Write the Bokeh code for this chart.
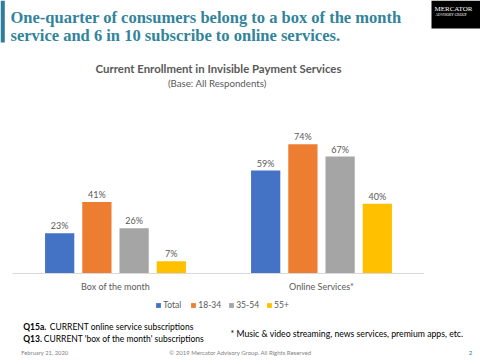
from bokeh.plotting import figure
from bokeh.layouts import column
from bokeh.models import (FactorRange, Range1d, Label, Legend, LegendItem,
                          BoxAnnotation, ColumnDataSource, Span)
from bokeh.transform import dodge
from bokeh.embed import file_html
from bokeh.resources import INLINE
from bokeh.core.properties import value

# ---- data ----
categories = ["Box of the month", "Online Services*"]
series = ["Total", "18-34", "35-54", "55+"]
total = [23, 59]
age_18_34 = [41, 74]
age_35_54 = [26, 67]
age_55_plus = [7, 40]
colors = ["#4472C4", "#ED7D31", "#A5A5A5", "#FFC000"]

values = [total, age_18_34, age_35_54, age_55_plus]
data = {"cat": categories}
for i, v in enumerate(values):
    data[f"s{i}"] = v
    data[f"l{i}"] = [f"{x}%" for x in v]
src = ColumnDataSource(data)

FONT = "Lato"
GRAY = "#595959"
TEAL = "#31849B"
W = 480
TOP_H = 95      # page y 0..95
CHART_H = 217   # page y 95..312
BOT_H = 48      # page y 312..360


def blank(h):
    f = figure(frame_width=W, frame_height=h, output_backend="svg",
               toolbar_location=None,
               x_range=Range1d(0, 1), y_range=Range1d(0, 1),
               x_axis_location=None, y_axis_location=None,
               min_border_left=0, min_border_right=0, min_border_top=0,
               min_border_bottom=0)
    f.frame_align = False
    f.outline_line_color = None
    f.grid.visible = False
    f.background_fill_color = "white"
    f.border_fill_color = "white"
    return f


def make_lab(fig, page_bottom):
    def lab(text, x, y, size, color, align="left", style="normal", font=FONT,
            baseline="middle"):
        fig.add_layout(Label(x=x, y=page_bottom - y, x_units="screen",
                             y_units="screen", text=text, text_font_size=size,
                             text_color=color, text_align=align,
                             text_baseline=baseline, text_font=font,
                             text_font_style=style))
    return lab


def box(fig, page_bottom, l, r, t, b, color):
    fig.add_layout(BoxAnnotation(left=l, right=r, top=page_bottom - t,
                                 bottom=page_bottom - b, left_units="screen",
                                 right_units="screen", top_units="screen",
                                 bottom_units="screen", fill_color=color,
                                 fill_alpha=1, line_color=None))


# ---------- top area ----------
top = blank(TOP_H)
lab = make_lab(top, TOP_H)
box(top, TOP_H, 0, 4.3, 0, 42, "#2E7D9B")
lab("One-quarter of consumers belong to a box of the month", 10, 17.3, "16.5px", TEAL,
    style="bold", font="Liberation Serif", baseline="alphabetic")
lab("service and 6 in 10 subscribe to online services.", 10, 35, "16.5px", TEAL,
    style="bold", font="Liberation Serif", baseline="alphabetic")
box(top, TOP_H, 431, 480, 0, 28, "black")
lab("MERCATOR", 434, 8.5, "7px", "white", font="Liberation Serif")
lab("ADVISORY GROUP", 435, 14.7, "3.6px", "white", font="Liberation Serif")
lab("Current Enrollment in Invisible Payment Services", 218, 68.3, "11.4px", GRAY,
    align="center", style="bold")
lab("(Base:  All Respondents)", 218, 82.3, "9.7px", GRAY, align="center")

# ---------- chart ----------
PX_PER_PCT = 1.745
BASE_Y = 273 - TOP_H          # baseline distance from chart-figure top
p = figure(frame_width=412, frame_height=CHART_H, output_backend="svg",
           toolbar_location=None,
           x_range=FactorRange(factors=categories, range_padding=0),
           y_range=Range1d(-(CHART_H - BASE_Y) / PX_PER_PCT, BASE_Y / PX_PER_PCT),
           x_axis_location=None, y_axis_location=None,
           min_border_left=12, min_border_right=56, min_border_top=0,
           min_border_bottom=0)
p.frame_align = False
p.outline_line_color = None
p.grid.visible = False
p.background_fill_color = "white"
p.border_fill_color = "white"

offsets = [-0.271, -0.0903, 0.0903, 0.271]
items = []
for i, name in enumerate(series):
    r = p.vbar(x=dodge("cat", offsets[i], range=p.x_range), top=f"s{i}", width=0.142,
               source=src, fill_color=colors[i], line_color=None)
    p.text(x=dodge("cat", offsets[i], range=p.x_range), y=f"s{i}", text=f"l{i}",
           source=src, text_align="center", text_baseline="bottom", y_offset=-2,
           text_font_size="9px", text_color=GRAY, text_font=value(FONT))
    items.append(LegendItem(label=name, renderers=[r]))

# category axis: baseline + category labels
p.add_layout(Span(location=0, dimension="width", line_color="#D9D9D9", line_width=1))
p.text(x="cat", y=0, text="cat", source=src, text_align="center",
       text_baseline="middle", y_offset=13, text_font_size="9px", text_color=GRAY,
       text_font=value(FONT))

legend = Legend(items=items, location=(143.3, 1.5), orientation="horizontal",
                glyph_width=6, glyph_height=6, label_text_font_size="8.5px",
                label_text_font=FONT, label_text_color=GRAY, label_height=11,
                label_standoff=2, spacing=7, padding=0, margin=0,
                border_line_color=None, background_fill_alpha=0)
p.add_layout(legend)

# ---------- footer ----------
bot = blank(BOT_H)
lab = make_lab(bot, 360)
lab("Q15a.", 22.7, 326, "8.5px", "black", style="bold")
lab("CURRENT online service subscriptions", 49.3, 326, "8.5px", "black")
lab("Q13.", 22.7, 338.7, "8.5px", "black", style="bold")
lab("CURRENT 'box of the month' subscriptions", 43.3, 338.7, "8.5px", "black")
lab("* Music & video streaming, news services, premium apps, etc.", 230, 332.7,
    "8.7px", "black")
lab("February 21, 2020", 20.7, 352.3, "5.8px", "#7F7F7F")
lab("\u00a9 2019 Mercator Advisory Group. All Rights Reserved", 240, 352.3, "6px",
    "#7F7F7F", align="center")
lab("2", 470, 352.3, "6px", "#2E75B6", align="center")

layout = column(top, p, bot, spacing=0)
open("out.html", "w").write(file_html(layout, INLINE))
